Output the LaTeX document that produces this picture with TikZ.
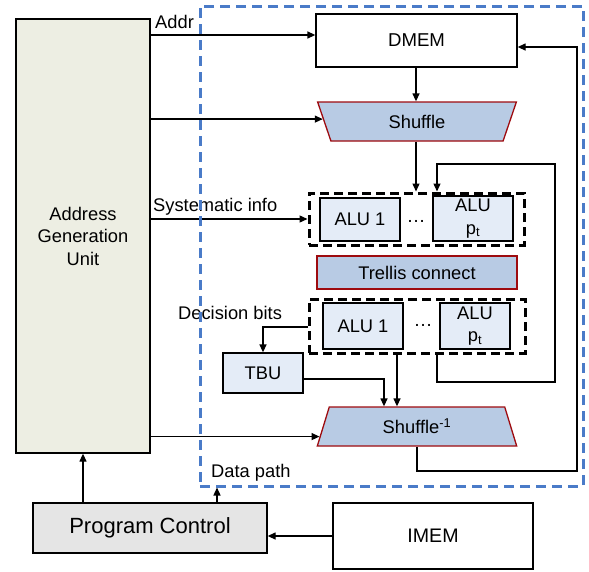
\documentclass[tikz,border=0pt]{standalone}
\usepackage{fontspec}
\setmainfont{Liberation Sans}
\usetikzlibrary{arrows.meta,shapes.geometric,calc}
\definecolor{agufill}{HTML}{EDEEE3}
\definecolor{shuffill}{HTML}{B8CBE4}
\definecolor{trapred}{HTML}{9E0B0F}
\definecolor{alufill}{HTML}{E4ECF7}
\definecolor{pcfill}{HTML}{E5E5E5}
\definecolor{dpblue}{HTML}{4A7BC8}
\newcommand{\fs}{\fontsize{18.3}{22.5}\selectfont}
\tikzset{
  box/.style={draw=black, line width=1.3pt, inner sep=0pt, align=center, font=\fs},
  alubox/.style={box, fill=alufill},
  redbox/.style={draw=trapred, line width=1.3pt, fill=shuffill, inner sep=0pt, align=center, font=\fs},
  trap/.style={redbox, trapezium, trapezium stretches=true},
  grp/.style={draw=black, line width=3pt, dash pattern=on 9pt off 5pt, inner sep=0pt},
  conn/.style={draw=black, line width=1.3pt},
  arr/.style={conn, -{Triangle[length=8pt,width=7pt]}},
  lbl/.style={font=\fs, inner sep=0pt, anchor=west},
  dotsty/.style={font=\fontsize{19}{22}\selectfont, inner sep=0pt}
}
\begin{document}
\begin{tikzpicture}[x=1pt,y=-1pt]
\useasboundingbox (0,0) rectangle (589,571);
% boxes
\node[box, fill=agufill, minimum width=134pt, minimum height=434pt] (agu) at (83,236) {Address\\Generation\\Unit};
\node[box, minimum width=201pt, minimum height=53pt] (dmem) at (416.5,40.5) {\fontsize{18.6}{22}\selectfont DMEM};
\node[trap, trapezium left angle=108, trapezium right angle=108, minimum width=200pt, minimum height=39pt] (shuf) at (417,121.5) {Shuffle};
\node[grp, minimum width=215pt, minimum height=52pt] (g1) at (416.5,219) {};
\node[alubox, minimum width=80pt, minimum height=43pt] (alu1a) at (360,219.5) {ALU 1};
\node[alubox, minimum width=80pt, minimum height=45pt] (alupa) at (473,218.5) {ALU\\p\textsubscript{t}};
\node[dotsty] (dots1) at (416,221) {…};
\node[redbox, minimum width=200pt, minimum height=33pt] (trel) at (417,272.5) {Trellis connect};
\node[grp, minimum width=216pt, minimum height=54pt] (g2) at (417,326) {};
\node[alubox, minimum width=80pt, minimum height=46pt] (alu1b) at (363,326) {ALU 1};
\node[alubox, minimum width=70pt, minimum height=46pt] (alupb) at (475,326) {ALU\\p\textsubscript{t}};
\node[dotsty] (dots2) at (423,325) {…};
\node[alubox, minimum width=80pt, minimum height=40pt] (tbu) at (263,373) {TBU};
\node[trap, trapezium left angle=73, trapezium right angle=73, minimum width=200pt, minimum height=39pt] (shufi) at (417,426.5) {Shuffle\textsuperscript{-1}};
\node[box, fill=pcfill, minimum width=234pt, minimum height=50pt, font=\fontsize{22}{26}\selectfont] (pc) at (150,528) {Program Control};
\node[box, minimum width=200pt, minimum height=66pt, font=\fontsize{19.6}{24}\selectfont] (imem) at (433,536) {IMEM};
% labels
\node[lbl] (laddr) at (155,22) {Addr};
\node[lbl] (lsys) at (153,207) {Systematic info};
\node[lbl] (ldec) at (178,313) {Decision bits};
\node[lbl] (ldp) at (211,473) {Data path};
% connectors
\coordinate (sin) at ($(shuf.top left corner)!0.44!(shuf.bottom left corner)$);
\coordinate (siin) at ($(shufi.top left corner)!0.75!(shufi.bottom left corner)$);
\draw[arr] (agu.east |- 0,35) -- (dmem.west |- 0,35);
\draw[arr] (agu.east |- sin) -- (sin);
\draw[arr] (agu.east |- 0,219) -- (g1.west |- 0,219);
\draw[arr] (agu.east |- siin) -- (siin);
\draw[arr] (dmem.south -| 416,0) -- (shuf.north -| 416,0);
\draw[arr] (shuf.south -| 416,0) -- (g1.north -| 416,0);
\draw[arr] (g2.south -| 437,0) -- (437,382) -- (555,382) -- (555,164) -- (437,164) -- (g1.north -| 437,0);
\draw[arr] (g2.west |- 0,327) -- (tbu.north |- 0,327) -- (tbu.north);
\draw[arr] (tbu.east |- 0,379) -- (384,379) -- (shufi.north -| 384,0);
\draw[arr] (g2.south -| 397,0) -- (shufi.north -| 397,0);
\draw[arr] (shufi.south) -- (shufi.south |- 0,471) -- (577,471) -- (577,47) -- (dmem.east |- 0,47);
\draw[arr] (pc.north -| 83,0) -- (agu.south -| 83,0);
\draw[arr] (imem.west) -- (imem.west -| pc.east);
% data path box
\node[draw=dpblue, line width=3pt, dash pattern=on 10pt off 6pt, minimum width=383pt, minimum height=480pt, inner sep=0pt] (dp) at (391.5,246) {};
\draw[arr] (pc.north -| 217,0) -- (dp.south -| 217,0);
\end{tikzpicture}
\end{document}
